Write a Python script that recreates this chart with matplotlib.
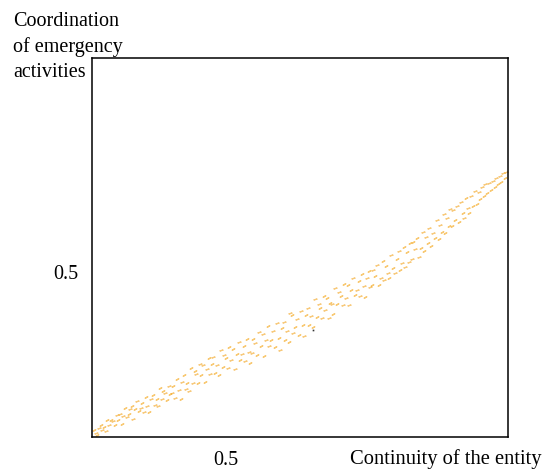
import matplotlib
matplotlib.use("Agg")
import matplotlib.pyplot as plt

plt.rcParams['font.family'] = ['Liberation Serif', 'DejaVu Serif']

# dash centres (continuity -> coordination)
xs = [0.303, 0.306, 0.308, 0.311, 0.313, 0.315, 0.318, 0.321, 0.323, 0.326, 0.329, 0.331, 0.334, 0.337, 0.339, 0.342,
      0.345, 0.347, 0.350, 0.352, 0.355, 0.357,
      0.360, 0.362, 0.365, 0.368, 0.370, 0.373, 0.375, 0.378, 0.381, 0.383, 0.386, 0.389, 0.391, 0.394, 0.397, 0.399,
      0.402, 0.405, 0.407, 0.410, 0.412, 0.415, 0.417,
      0.420, 0.422, 0.425, 0.428, 0.430, 0.433, 0.435, 0.438, 0.441, 0.443, 0.446, 0.448, 0.451, 0.454, 0.456, 0.459,
      0.462, 0.464, 0.467, 0.470, 0.472, 0.475, 0.477,
      0.480, 0.482, 0.485, 0.488, 0.490, 0.493, 0.496, 0.498, 0.501, 0.504, 0.506, 0.509, 0.512, 0.514, 0.517, 0.520,
      0.522, 0.525, 0.528, 0.530, 0.533, 0.535, 0.537,
      0.540, 0.542, 0.545, 0.548, 0.550, 0.553, 0.556, 0.558, 0.561, 0.564, 0.566, 0.569, 0.572, 0.574, 0.577, 0.580,
      0.582, 0.585, 0.588, 0.590, 0.593, 0.595, 0.597,
      0.600, 0.602, 0.605, 0.608, 0.610, 0.613, 0.616, 0.618, 0.621, 0.624, 0.626, 0.629, 0.632, 0.634, 0.637, 0.640,
      0.642, 0.645, 0.648, 0.650, 0.653, 0.655, 0.657,
      0.660, 0.662, 0.665, 0.668, 0.670, 0.673, 0.676, 0.678, 0.681, 0.684, 0.686, 0.689, 0.692, 0.694, 0.697, 0.700,
      0.702, 0.705, 0.708, 0.710, 0.713, 0.715, 0.717,
      0.720, 0.722, 0.725, 0.728, 0.730, 0.733, 0.736, 0.738, 0.741, 0.744, 0.746, 0.749, 0.752, 0.754, 0.757, 0.760,
      0.762, 0.765, 0.768, 0.770, 0.773, 0.775, 0.777,
      0.780, 0.782, 0.785, 0.788, 0.790, 0.793, 0.796, 0.798, 0.801, 0.804, 0.806, 0.809, 0.812, 0.814, 0.817, 0.820,
      0.822, 0.825, 0.828, 0.830, 0.833, 0.835, 0.837,
      0.840, 0.842, 0.845, 0.848, 0.850, 0.853, 0.856, 0.858, 0.861, 0.864, 0.866, 0.869, 0.872, 0.874, 0.877, 0.880,
      0.882, 0.885, 0.888, 0.890, 0.893, 0.896, 0.898, 0.901, 0.904, 0.906, 0.909, 0.912, 0.914, 0.917, 0.919, 0.921]
ys = [0.309, 0.305, 0.302, 0.311, 0.314, 0.309, 0.312, 0.307, 0.321, 0.314, 0.321, 0.319, 0.315, 0.327, 0.321, 0.328,
      0.316, 0.326, 0.335, 0.324, 0.328, 0.334,
      0.338, 0.322, 0.334, 0.344, 0.331, 0.335, 0.341, 0.330, 0.348, 0.338, 0.330, 0.346, 0.351, 0.339, 0.346, 0.338,
      0.359, 0.346, 0.356, 0.353, 0.345, 0.362, 0.352,
      0.354, 0.362, 0.347, 0.371, 0.357, 0.346, 0.367, 0.375, 0.358, 0.366, 0.356, 0.384, 0.366, 0.380, 0.376, 0.365,
      0.389, 0.375, 0.387, 0.367, 0.382, 0.396, 0.377,
      0.389, 0.397, 0.378, 0.387, 0.375, 0.406, 0.385, 0.400, 0.396, 0.384, 0.409, 0.394, 0.407, 0.383, 0.401, 0.415,
      0.394, 0.401, 0.410, 0.392, 0.419, 0.403, 0.390,
      0.402, 0.419, 0.414, 0.400, 0.428, 0.410, 0.425, 0.398, 0.418, 0.435, 0.410, 0.418, 0.429, 0.409, 0.438, 0.420,
      0.406, 0.432, 0.440, 0.418, 0.429, 0.415, 0.450,
      0.448, 0.426, 0.433, 0.443, 0.424, 0.453, 0.436, 0.423, 0.448, 0.457, 0.436, 0.447, 0.434, 0.467, 0.446, 0.461,
      0.457, 0.444, 0.471, 0.454, 0.469, 0.444, 0.463,
      0.462, 0.449, 0.481, 0.461, 0.476, 0.471, 0.460, 0.486, 0.469, 0.484, 0.460, 0.478, 0.493, 0.472, 0.478, 0.489,
      0.471, 0.498, 0.483, 0.470, 0.493, 0.501, 0.482,
      0.484, 0.503, 0.496, 0.509, 0.485, 0.493, 0.514, 0.490, 0.508, 0.499, 0.493, 0.521, 0.505, 0.499, 0.516, 0.526,
      0.503, 0.511, 0.531, 0.506, 0.524, 0.513, 0.536,
      0.516, 0.537, 0.528, 0.541, 0.519, 0.530, 0.549, 0.526, 0.543, 0.535, 0.554, 0.532, 0.548, 0.541, 0.563, 0.540,
      0.557, 0.549, 0.571, 0.547, 0.566, 0.556, 0.577,
      0.556, 0.575, 0.563, 0.580, 0.561, 0.585, 0.572, 0.566, 0.590, 0.578, 0.572, 0.593, 0.580, 0.598, 0.583, 0.597,
      0.589, 0.603, 0.592, 0.607, 0.596, 0.608, 0.600, 0.611, 0.603, 0.614, 0.607, 0.617, 0.610, 0.620, 0.614, 0.622]

# single dark point inside the band
dark_x = [0.6315]
dark_y = [0.430]

fig = plt.figure(figsize=(5.44, 4.70), dpi=100)
ax = fig.add_axes([0.169, 0.0702, 0.765, 0.8064])

# dashes lie along the band, some tilted more than others
ax.plot(xs[::2], ys[::2], linestyle='none', marker=(2, 2, -58), markersize=2.7,
        markeredgewidth=0.9, markeredgecolor='#f5ad2a', alpha=0.65)
ax.plot(xs[1::2], ys[1::2], linestyle='none', marker=(2, 2, -75), markersize=2.7,
        markeredgewidth=0.9, markeredgecolor='#f3a623', alpha=0.6)
ax.plot(dark_x, dark_y, linestyle='none', marker='s', markersize=1.2,
        markeredgewidth=0, color='#333333')

ax.set_xlim(0.3, 0.924)
ax.set_ylim(0.3, 0.76)
ax.set_xticks([0.5])
ax.set_yticks([0.5])
ax.set_xticklabels(['0.5'])
ax.set_yticklabels(['0.5'])
ax.tick_params(length=0, labelsize=14.5, pad=10)
for s in ax.spines.values():
    s.set_linewidth(1.1)

fig.text(13 / 544, 1 - 12 / 470, 'Coordination\nof emergency\nactivities',
         ha='left', va='top', fontsize=14.5, linespacing=1.42)
fig.text(542 / 544, 1 - 459 / 470, 'Continuity of the entity',
         ha='right', va='center', fontsize=14.8)

fig.savefig('out.png', dpi=100)
